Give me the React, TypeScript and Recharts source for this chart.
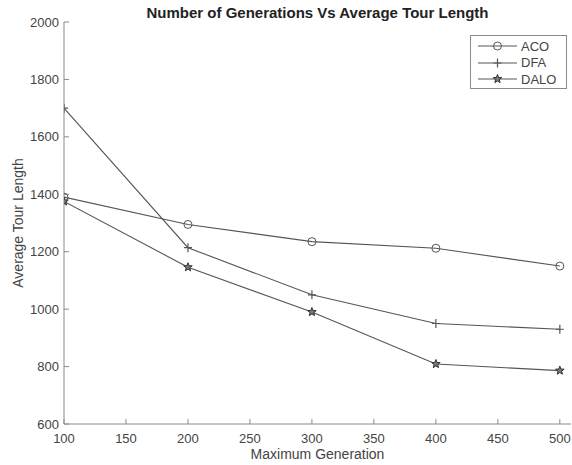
import React from 'react';
import { LineChart, Line, XAxis, YAxis, Legend } from 'recharts';

const generations = [100, 200, 300, 400, 500];
const acoValues = [1390, 1295, 1235, 1212, 1150];
const dfaValues = [1700, 1214, 1050, 950, 930];
const daloValues = [1375, 1146, 990, 809, 786];
const xTicks = [100, 150, 200, 250, 300, 350, 400, 450, 500];
const yTicks = [600, 800, 1000, 1200, 1400, 1600, 1800, 2000];

const data = generations.map((g, i) => ({
  gen: g,
  ACO: acoValues[i],
  DFA: dfaValues[i],
  DALO: daloValues[i],
}));

const LINE = '#555555';
const AXIS = '#8a8a8a';
const TEXT = '#444444';
const FONT = '"Liberation Sans", Arial, Helvetica, sans-serif';

const circleShape = (cx: number, cy: number, key?: any) => (
  <circle key={key} cx={cx} cy={cy} r={4} fill="none" stroke={LINE} strokeWidth={1} />
);
const plusShape = (cx: number, cy: number, key?: any) => (
  <path key={key} d={`M${cx - 4},${cy}H${cx + 4}M${cx},${cy - 4.5}V${cy + 4.5}`} stroke={LINE} strokeWidth={1.2} fill="none" />
);
const starShape = (cx: number, cy: number, key?: any) => {
  const pts: string[] = [];
  for (let k = 0; k < 10; k++) {
    const r = k % 2 === 0 ? 4.5 : 1.9;
    const a = -Math.PI / 2 + (k * Math.PI) / 5;
    pts.push(`${cx + r * Math.cos(a)},${cy + r * Math.sin(a)}`);
  }
  return <polygon key={key} points={pts.join(' ')} fill="#777" stroke="#333" strokeWidth={1} />;
};

const mkDot = (fn: any) => (props: any) => fn(props.cx, props.cy, `${props.dataKey}-${props.index}`);

const series = [
  { key: 'ACO', shape: circleShape },
  { key: 'DFA', shape: plusShape },
  { key: 'DALO', shape: starShape },
];

const LegendContent = () => (
  <div
    style={{
      width: 97,
      height: 54,
      border: `1px solid ${AXIS}`,
      background: '#fff',
      boxSizing: 'border-box',
      fontFamily: FONT,
      fontSize: 13,
      color: TEXT,
    }}
  >
    {series.map((s, i) => (
      <div key={s.key} style={{ position: 'absolute', left: 0, top: 3 + i * 16.5, height: 16, display: 'flex', alignItems: 'center' }}>
        <svg width={50} height={16} style={{ display: 'block' }}>
          <line x1={8} y1={8} x2={47} y2={8} stroke={LINE} strokeWidth={1} />
          {s.shape(27.5, 8)}
        </svg>
        <span style={{ marginLeft: 1 }}>{s.key}</span>
      </div>
    ))}
  </div>
);

export default function App() {
  return (
    <div style={{ position: 'absolute', left: 0, top: 0, width: 572, height: 465, background: '#fff' }}>
      <div
        style={{
          position: 'absolute',
          left: 64,
          width: 507,
          top: 4,
          textAlign: 'center',
          fontFamily: FONT,
          fontWeight: 'bold',
          fontSize: 15,
          color: '#222',
          lineHeight: '17px',
        }}
      >
        Number of Generations Vs Average Tour Length
      </div>
      <LineChart width={572} height={465} data={data} margin={{ top: 22, right: 1, left: 0, bottom: 0 }}>
        <XAxis
          dataKey="gen"
          type="number"
          domain={[100, 509]}
          ticks={xTicks}
          allowDataOverflow
          height={41}
          tickSize={-5}
          tickMargin={15}
          stroke={AXIS}
          tick={{ fill: TEXT, fontSize: 13, fontFamily: FONT }}
          label={{ value: 'Maximum Generation', position: 'insideBottom', offset: 6, fill: TEXT, fontSize: 14, fontFamily: FONT }}
        />
        <XAxis
          xAxisId="top"
          orientation="top"
          dataKey="gen"
          type="number"
          domain={[100, 509]}
          ticks={xTicks}
          allowDataOverflow
          height={0}
          tickSize={-5}
          tick={false}
          stroke={AXIS}
        />
        <YAxis
          type="number"
          domain={[600, 2000]}
          ticks={yTicks}
          allowDataOverflow
          width={64}
          tickSize={-5}
          tickMargin={10}
          stroke={AXIS}
          tick={{ fill: TEXT, fontSize: 13, fontFamily: FONT }}
          label={{ value: 'Average Tour Length', angle: -90, position: 'insideLeft', offset: 18, fill: TEXT, fontSize: 14, fontFamily: FONT, style: { textAnchor: 'middle' } }}
        />
        <YAxis
          yAxisId="right"
          orientation="right"
          type="number"
          domain={[600, 2000]}
          ticks={yTicks}
          allowDataOverflow
          width={0}
          tickSize={-5}
          tick={false}
          stroke={AXIS}
        />
        <Legend
          layout="vertical"
          align="center"
          verticalAlign="middle"
          content={<LegendContent />}
          wrapperStyle={{ position: 'absolute', left: 470, top: 35, width: 97, height: 54 }}
        />
        {series.map((s) => (
          <Line
            key={s.key}
            dataKey={s.key}
            stroke={LINE}
            strokeWidth={1.1}
            dot={mkDot(s.shape)}
            activeDot={false}
            isAnimationActive={false}
          />
        ))}
      </LineChart>
    </div>
  );
}
